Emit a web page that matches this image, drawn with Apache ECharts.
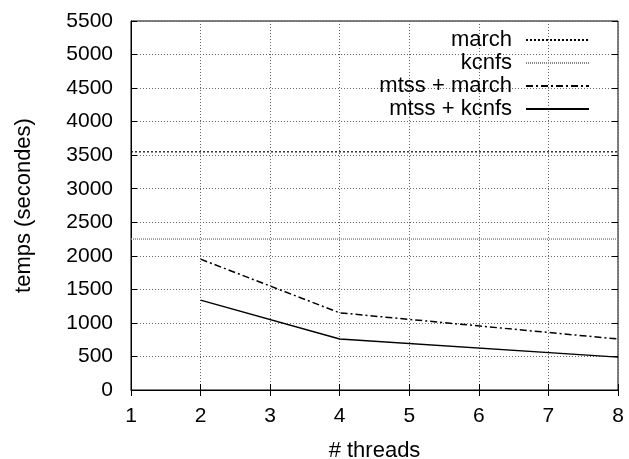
<!DOCTYPE html>
<html>
<head>
<meta charset="utf-8">
<script src="https://cdn.jsdelivr.net/npm/echarts@6/dist/echarts.min.js"></script>
<style>html,body{margin:0;padding:0;background:#fff}#c{width:629px;height:459px}</style>
</head>
<body>
<div id="c"></div>
<script>
const seriesNames = ['march', 'kcnfs', 'mtss + march', 'mtss + kcnfs'];
const refThreads = [1, 8];
const marchValues = [3550, 3550];
const kcnfsValues = [2250, 2250];
const mtssThreads = [2, 4, 8];
const mtssMarchValues = [1950, 1150, 760];
const mtssKcnfsValues = [1340, 760, 490];
const xTicks = [1, 2, 3, 4, 5, 6, 7, 8];
const yTicks = [0, 500, 1000, 1500, 2000, 2500, 3000, 3500, 4000, 4500, 5000, 5500];

const FONT = 'Liberation Sans, Arial, sans-serif';
const FS = 22;
const TFS = 21;
const zip = (xs, ys) => xs.map((x, i) => [x, ys[i]]);

const chart = echarts.init(document.getElementById('c'), null, {renderer: 'canvas'});
const gridLine = {show: true, lineStyle: {color: '#666', type: [1, 2], width: 1}};
const mirror = {
  axisLine: {show: false}, axisLabel: {show: false}, splitLine: {show: false},
  axisTick: {show: true, inside: true, length: 6, lineStyle: {color: '#000'}}
};
chart.setOption({
  animation: false,
  backgroundColor: '#fff',
  textStyle: {fontFamily: FONT},
  grid: {left: 131, right: 11, top: 21, bottom: 69, show: true, borderColor: '#000', borderWidth: 1,
    containLabel: false, outerBoundsMode: 'none'},
  legend: {
    orient: 'vertical', align: 'right', right: 34, top: 24,
    itemWidth: 63, itemHeight: 14, itemGap: 1,
    itemStyle: {opacity: 0, borderWidth: 0},
    textStyle: {fontFamily: FONT, fontSize: FS, color: '#000', padding: [0, 9, 0, 0]},
    data: seriesNames
  },
  xAxis: [{
    type: 'value', min: xTicks[0], max: xTicks[xTicks.length - 1], interval: 1,
    name: '# threads', nameLocation: 'middle', nameGap: 50,
    nameTextStyle: {fontFamily: FONT, fontSize: FS, color: '#000'},
    axisLine: {show: true, lineStyle: {color: '#000'}},
    axisTick: {show: true, inside: true, length: 6, lineStyle: {color: '#000'}},
    axisLabel: {fontFamily: FONT, fontSize: TFS, color: '#000', margin: 16, formatter: v => String(v)},
    splitLine: gridLine
  }, Object.assign({
    type: 'value', position: 'top', min: xTicks[0], max: xTicks[xTicks.length - 1], interval: 1
  }, mirror)],
  yAxis: [{
    type: 'value', min: yTicks[0], max: yTicks[yTicks.length - 1], interval: 500,
    name: 'temps (secondes)', nameLocation: 'middle', nameGap: 96,
    nameTextStyle: {fontFamily: FONT, fontSize: FS, color: '#000'},
    axisLine: {show: true, lineStyle: {color: '#000'}},
    axisTick: {show: true, inside: true, length: 6, lineStyle: {color: '#000'}},
    axisLabel: {fontFamily: FONT, fontSize: TFS, color: '#000', margin: 18, formatter: v => String(v)},
    splitLine: gridLine
  }, Object.assign({
    type: 'value', position: 'right', min: yTicks[0], max: yTicks[yTicks.length - 1], interval: 500
  }, mirror)],
  series: [
    {name: seriesNames[0], type: 'line', symbol: 'none', data: zip(refThreads, marchValues),
      lineStyle: {color: '#000', width: 1.2, type: [2, 2]}, itemStyle: {color: '#000'}},
    {name: seriesNames[1], type: 'line', symbol: 'none', data: zip(refThreads, kcnfsValues),
      lineStyle: {color: '#888', width: 1.5, type: [1, 1]}, itemStyle: {color: '#888'}},
    {name: seriesNames[2], type: 'line', symbol: 'none', data: zip(mtssThreads, mtssMarchValues),
      lineStyle: {color: '#000', width: 1.5, type: [7, 3, 2, 3]}, itemStyle: {color: '#000'}},
    {name: seriesNames[3], type: 'line', symbol: 'none', data: zip(mtssThreads, mtssKcnfsValues),
      lineStyle: {color: '#000', width: 1.5, type: 'solid'}, itemStyle: {color: '#000'}}
  ]
});
</script>
</body>
</html>
